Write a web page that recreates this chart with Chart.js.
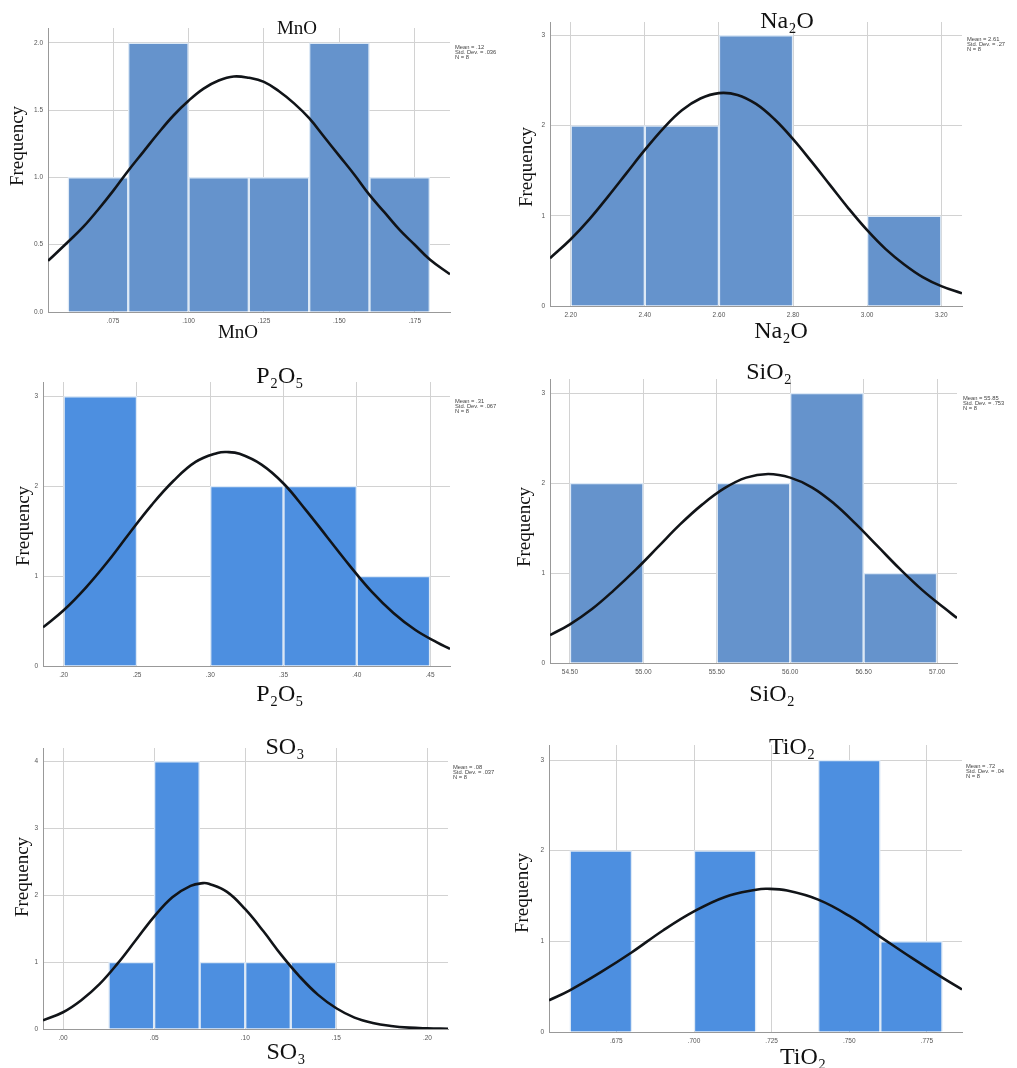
<!DOCTYPE html>
<html>
<head>
<meta charset="utf-8">
<script src="https://cdn.jsdelivr.net/npm/chart.js@4.4.1/dist/chart.umd.min.js"></script>
<style>
  html, body { margin: 0; padding: 0; background: #fff; overflow: hidden; }
  body { width: 1017px; height: 1068px; position: relative; }
  canvas { position: absolute; }
</style>
</head>
<body>
<canvas id="mno"></canvas>
<canvas id="na2o"></canvas>
<canvas id="p2o5"></canvas>
<canvas id="sio2"></canvas>
<canvas id="so3"></canvas>
<canvas id="tio2"></canvas>
<script>
// MnO
var mnoBinMid = [0.07, 0.09, 0.11, 0.13, 0.15, 0.17];
var mnoCount = [1, 2, 1, 1, 2, 1];
var mnoCurveX = [0.0534, 0.060, 0.065, 0.070, 0.075, 0.080, 0.085, 0.090, 0.095, 0.100, 0.105, 0.110, 0.115, 0.120, 0.125, 0.130, 0.135, 0.140, 0.145, 0.150, 0.155, 0.160, 0.165, 0.170, 0.175, 0.180, 0.1867];
var mnoCurveY = [0.38, 0.52, 0.63, 0.76, 0.90, 1.05, 1.19, 1.33, 1.46, 1.57, 1.66, 1.72, 1.75, 1.74, 1.71, 1.64, 1.55, 1.44, 1.30, 1.16, 1.02, 0.87, 0.74, 0.61, 0.50, 0.39, 0.28];
var mnoXTicks = [0.075, 0.100, 0.125, 0.150, 0.175];
var mnoXLabels = ['.075', '.100', '.125', '.150', '.175'];
var mnoYTicks = [0, 0.5, 1, 1.5, 2];
var mnoYLabels = ['0.0', '0.5', '1.0', '1.5', '2.0'];
var mnoStats = ['Mean = .12', 'Std. Dev. = .036', 'N = 8'];

// Na2O
var naBinMid = [2.3, 2.5, 2.7, 2.9, 3.1];
var naCount = [2, 2, 3, 0, 1];
var naCurveX = [2.144, 2.20, 2.25, 2.30, 2.35, 2.40, 2.45, 2.50, 2.55, 2.60, 2.65, 2.70, 2.75, 2.80, 2.85, 2.90, 2.95, 3.00, 3.05, 3.10, 3.15, 3.20, 3.256];
var naCurveY = [0.53, 0.74, 0.96, 1.21, 1.47, 1.73, 1.97, 2.17, 2.30, 2.36, 2.34, 2.24, 2.07, 1.85, 1.60, 1.34, 1.08, 0.84, 0.63, 0.46, 0.32, 0.22, 0.14];
var naXTicks = [2.2, 2.4, 2.6, 2.8, 3.0, 3.2];
var naXLabels = ['2.20', '2.40', '2.60', '2.80', '3.00', '3.20'];
var naYTicks = [0, 1, 2, 3];
var naYLabels = ['0', '1', '2', '3'];
var naStats = ['Mean = 2.61', 'Std. Dev. = .27', 'N = 8'];

// P2O5
var pBinMid = [0.225, 0.275, 0.325, 0.375, 0.425];
var pCount = [3, 0, 2, 2, 1];
var pCurveX = [0.1859, 0.200, 0.215, 0.230, 0.245, 0.260, 0.275, 0.290, 0.305, 0.3114, 0.320, 0.335, 0.350, 0.365, 0.380, 0.395, 0.410, 0.425, 0.440, 0.455, 0.4636];
var pCurveY = [0.43, 0.62, 0.87, 1.16, 1.48, 1.79, 2.06, 2.27, 2.37, 2.38, 2.36, 2.24, 2.03, 1.74, 1.43, 1.12, 0.83, 0.59, 0.40, 0.26, 0.19];
var pXTicks = [0.20, 0.25, 0.30, 0.35, 0.40, 0.45];
var pXLabels = ['.20', '.25', '.30', '.35', '.40', '.45'];
var pYTicks = [0, 1, 2, 3];
var pYLabels = ['0', '1', '2', '3'];
var pStats = ['Mean = .31', 'Std. Dev. = .067', 'N = 8'];

// SiO2
var siBinMid = [54.75, 55.25, 55.75, 56.25, 56.75];
var siCount = [2, 0, 2, 3, 1];
var siCurveX = [54.364, 54.50, 54.65, 54.80, 54.95, 55.10, 55.25, 55.40, 55.55, 55.70, 55.85, 56.00, 56.15, 56.30, 56.45, 56.60, 56.75, 56.90, 57.05, 57.136];
var siCurveY = [0.31, 0.43, 0.60, 0.81, 1.04, 1.29, 1.54, 1.76, 1.94, 2.06, 2.10, 2.06, 1.95, 1.77, 1.54, 1.29, 1.04, 0.81, 0.61, 0.50];
var siXTicks = [54.5, 55.0, 55.5, 56.0, 56.5, 57.0];
var siXLabels = ['54.50', '55.00', '55.50', '56.00', '56.50', '57.00'];
var siYTicks = [0, 1, 2, 3];
var siYLabels = ['0', '1', '2', '3'];
var siStats = ['Mean = 55.85', 'Std. Dev. = .753', 'N = 8'];

// SO3
var soBinMid = [0.0375, 0.0625, 0.0875, 0.1125, 0.1375];
var soCount = [1, 4, 1, 1, 1];
var soCurveX = [-0.011, 0.000, 0.010, 0.020, 0.030, 0.040, 0.050, 0.060, 0.070, 0.0768, 0.080, 0.090, 0.100, 0.110, 0.120, 0.130, 0.140, 0.150, 0.160, 0.170, 0.180, 0.190, 0.200, 0.2113];
var soCurveY = [0.13, 0.25, 0.43, 0.67, 0.98, 1.33, 1.68, 1.97, 2.14, 2.18, 2.17, 2.05, 1.79, 1.46, 1.10, 0.78, 0.51, 0.31, 0.17, 0.09, 0.045, 0.02, 0.01, 0.004];
var soXTicks = [0.00, 0.05, 0.10, 0.15, 0.20];
var soXLabels = ['.00', '.05', '.10', '.15', '.20'];
var soYTicks = [0, 1, 2, 3, 4];
var soYLabels = ['0', '1', '2', '3', '4'];
var soStats = ['Mean = .08', 'Std. Dev. = .037', 'N = 8'];

// TiO2
var tiBinMid = [0.67, 0.69, 0.71, 0.73, 0.75, 0.77];
var tiCount = [2, 0, 2, 0, 3, 1];
var tiCurveX = [0.6533, 0.660, 0.670, 0.680, 0.690, 0.700, 0.710, 0.720, 0.7236, 0.730, 0.740, 0.750, 0.760, 0.770, 0.780, 0.7863];
var tiCurveY = [0.35, 0.46, 0.66, 0.88, 1.12, 1.33, 1.49, 1.57, 1.58, 1.56, 1.46, 1.28, 1.05, 0.82, 0.60, 0.47];
var tiXTicks = [0.675, 0.700, 0.725, 0.750, 0.775];
var tiXLabels = ['.675', '.700', '.725', '.750', '.775'];
var tiYTicks = [0, 1, 2, 3];
var tiYLabels = ['0', '1', '2', '3'];
var tiStats = ['Mean = .72', 'Std. Dev. = .04', 'N = 8'];

var SERIF = '"Liberation Serif", "Times New Roman", serif';
var SANS = '"Liberation Sans", Arial, sans-serif';
Chart.defaults.font.family = SANS;

// draws panel title, axis titles and the stats box
var panelText = {
    id: 'panelText',
    afterDraw: function (chart, args, o) {
        var ctx = chart.ctx;
        ctx.save();
        ctx.fillStyle = '#111';
        ctx.textAlign = 'center';
        ctx.textBaseline = 'middle';
        ctx.font = o.titleSize + 'px ' + SERIF;
        ctx.fillText(o.title, o.titlePos[0] - o.ox, o.titlePos[1] - o.oy);
        ctx.fillText(o.title, o.xTitlePos[0] - o.ox, o.xTitlePos[1] - o.oy);
        ctx.font = '19px ' + SERIF;
        ctx.translate(o.yTitlePos[0] - o.ox, o.yTitlePos[1] - o.oy);
        ctx.rotate(-Math.PI / 2);
        ctx.fillText('Frequency', 0, 0);
        ctx.restore();

        ctx.save();
        ctx.fillStyle = '#444';
        ctx.font = '5.8px ' + SANS;
        ctx.textAlign = 'left';
        ctx.textBaseline = 'middle';
        o.stats.forEach(function (s, i) {
            ctx.fillText(s, o.statsPos[0] - o.ox, o.statsPos[1] - o.oy + i * 5.3);
        });
        ctx.restore();
    }
};

function makeHist(id, p) {
    var ML = 50, MT = 32, MR = 70, MB = 50;
    var cv = document.getElementById(id);
    var w = (p.box[2] - p.box[0]) + ML + MR;
    var h = (p.box[3] - p.box[1]) + MT + MB;
    var ox = p.box[0] - ML, oy = p.box[1] - MT;
    cv.width = w; cv.height = h;
    cv.style.left = ox + 'px'; cv.style.top = oy + 'px';
    cv.style.width = w + 'px'; cv.style.height = h + 'px';

    new Chart(cv.getContext('2d'), {
        type: 'bar',
        data: {
            datasets: [{
                type: 'line',
                data: p.curveX.map(function (x, i) { return { x: x, y: p.curveY[i] }; }),
                borderColor: '#111418',
                borderWidth: 2.6,
                pointRadius: 0,
                tension: 0.4,
                order: 0
            }, {
                type: 'bar',
                data: p.mids.map(function (x, i) { return { x: x, y: p.counts[i] }; }),
                backgroundColor: p.color,
                borderColor: '#dde9f6',
                borderWidth: 1.5,
                barPercentage: 1,
                categoryPercentage: 1,
                order: 1
            }]
        },
        options: {
            responsive: false,
            animation: false,
            devicePixelRatio: 1,
            layout: { padding: { top: MT, right: MR, left: 0, bottom: 0 } },
            plugins: {
                legend: { display: false },
                tooltip: { enabled: false },
                panelText: {
                    ox: ox, oy: oy,
                    title: p.title, titleSize: p.titleSize,
                    titlePos: p.titlePos, xTitlePos: p.xTitlePos, yTitlePos: p.yTitlePos,
                    stats: p.stats, statsPos: p.statsPos
                }
            },
            scales: {
                x: {
                    type: 'linear',
                    min: p.xRange[0],
                    max: p.xRange[1],
                    offset: false,
                    grid: { offset: false, color: '#d2d2d2', drawTicks: false },
                    border: { color: '#999' },
                    afterBuildTicks: function (s) { s.ticks = p.xTicks.map(function (v) { return { value: v }; }); },
                    afterFit: function (s) { s.height = MB; },
                    ticks: {
                        autoSkip: false, maxRotation: 0, padding: 5,
                        font: { size: 6.5 }, color: '#555',
                        callback: function (v, i) { return p.xLabels[i]; }
                    }
                },
                y: {
                    min: 0,
                    max: p.yMax,
                    grid: { color: '#d2d2d2', drawTicks: false },
                    border: { color: '#999' },
                    afterBuildTicks: function (s) { s.ticks = p.yTicks.map(function (v) { return { value: v }; }); },
                    afterFit: function (s) { s.width = ML; },
                    ticks: {
                        padding: 5, font: { size: 6.5 }, color: '#555',
                        callback: function (v, i) { return p.yLabels[i]; }
                    }
                }
            }
        },
        plugins: [panelText]
    });
}

var muted = '#6593cc', bright = '#4d8fe0';

makeHist('mno', {
    box: [48, 28, 450, 312], xRange: [0.0534, 0.1867], yMax: 2.11,
    mids: mnoBinMid, counts: mnoCount, curveX: mnoCurveX, curveY: mnoCurveY,
    xTicks: mnoXTicks, xLabels: mnoXLabels, yTicks: mnoYTicks, yLabels: mnoYLabels,
    color: muted, title: 'MnO', titleSize: 19,
    titlePos: [297, 29], xTitlePos: [238, 333], yTitlePos: [18, 146],
    stats: mnoStats, statsPos: [455, 47]
});
makeHist('na2o', {
    box: [550, 22, 962, 306], xRange: [2.144, 3.256], yMax: 3.148,
    mids: naBinMid, counts: naCount, curveX: naCurveX, curveY: naCurveY,
    xTicks: naXTicks, xLabels: naXLabels, yTicks: naYTicks, yLabels: naYLabels,
    color: muted, title: 'Na₂O', titleSize: 24,
    titlePos: [787, 22], xTitlePos: [781, 332], yTitlePos: [527, 167],
    stats: naStats, statsPos: [967, 39]
});
makeHist('p2o5', {
    box: [43, 382, 450, 666], xRange: [0.1859, 0.4636], yMax: 3.159,
    mids: pBinMid, counts: pCount, curveX: pCurveX, curveY: pCurveY,
    xTicks: pXTicks, xLabels: pXLabels, yTicks: pYTicks, yLabels: pYLabels,
    color: bright, title: 'P₂O₅', titleSize: 24,
    titlePos: [280, 377], xTitlePos: [280, 695], yTitlePos: [24, 526],
    stats: pStats, statsPos: [455, 401]
});
makeHist('sio2', {
    box: [550, 379, 957, 663], xRange: [54.364, 57.136], yMax: 3.156,
    mids: siBinMid, counts: siCount, curveX: siCurveX, curveY: siCurveY,
    xTicks: siXTicks, xLabels: siXLabels, yTicks: siYTicks, yLabels: siYLabels,
    color: muted, title: 'SiO₂', titleSize: 24,
    titlePos: [769, 373], xTitlePos: [772, 695], yTitlePos: [525, 527],
    stats: siStats, statsPos: [963, 398]
});
makeHist('so3', {
    box: [43, 748, 448, 1029], xRange: [-0.011, 0.2113], yMax: 4.2,
    mids: soBinMid, counts: soCount, curveX: soCurveX, curveY: soCurveY,
    xTicks: soXTicks, xLabels: soXLabels, yTicks: soYTicks, yLabels: soYLabels,
    color: bright, title: 'SO₃', titleSize: 24,
    titlePos: [285, 748], xTitlePos: [286, 1053], yTitlePos: [23, 877],
    stats: soStats, statsPos: [453, 767]
});
makeHist('tio2', {
    box: [549, 745, 962, 1032], xRange: [0.6533, 0.7863], yMax: 3.166,
    mids: tiBinMid, counts: tiCount, curveX: tiCurveX, curveY: tiCurveY,
    xTicks: tiXTicks, xLabels: tiXLabels, yTicks: tiYTicks, yLabels: tiYLabels,
    color: bright, title: 'TiO₂', titleSize: 24,
    titlePos: [792, 748], xTitlePos: [803, 1058], yTitlePos: [523, 893],
    stats: tiStats, statsPos: [966, 766]
});
</script>
</body>
</html>
